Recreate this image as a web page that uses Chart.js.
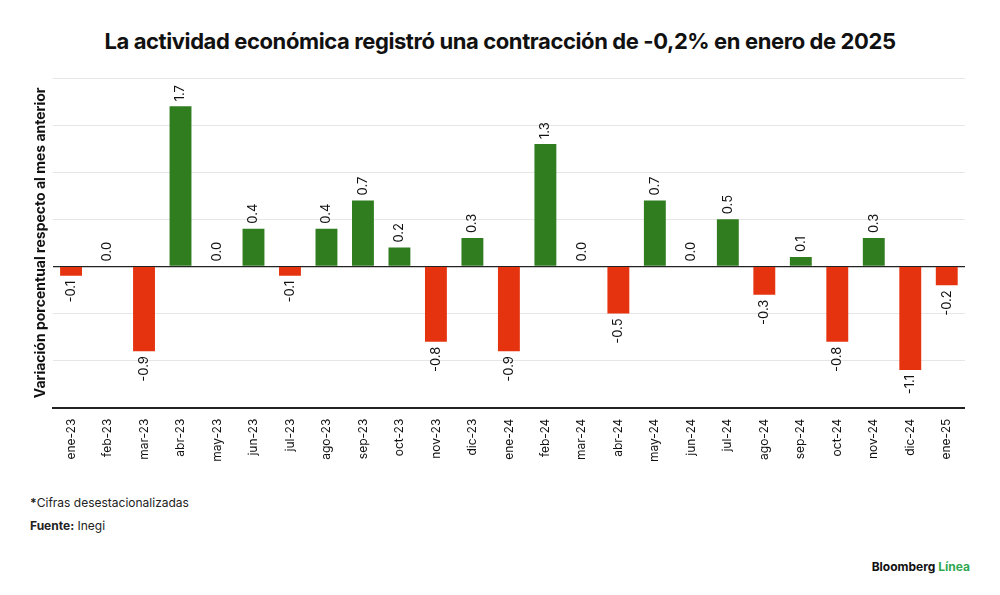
<!DOCTYPE html>
<html>
<head>
<meta charset="utf-8">
<script src="https://cdn.jsdelivr.net/npm/chart.js@4"></script>
<style>
  body { margin: 0; background: #fff; font-family: Inter, "Open Sans", sans-serif; }
  #wrap { position: relative; width: 1000px; height: 595px; }
  h1 { position: absolute; top: 28px; left: 0; width: 1000px; text-align: center; margin: 0;
       font-size: 22px; font-weight: 700; color: #111; letter-spacing: -0.4px; }
  #box { position: absolute; left: 28px; top: 78px; width: 937px; height: 387px; }
  .note { position: absolute; left: 30px; font-size: 12px; color: #222; }
  #logo { position: absolute; right: 30px; top: 559px; font-size: 12px; font-weight: 700; color: #111; }
  #logo span { color: #2fa84f; }
</style>
</head>
<body>
<div id="wrap">
  <h1>La actividad económica registró una contracción de -0,2% en enero de 2025</h1>
  <div id="box"><canvas id="c"></canvas></div>
  <div class="note" style="top:495px"><b>*</b>Cifras desestacionalizadas</div>
  <div class="note" style="top:518px"><b>Fuente:</b> Inegi</div>
  <div id="logo">Bloomberg <span>Línea</span></div>
</div>
<script>
// Datos
const months = ['ene-23','feb-23','mar-23','abr-23','may-23','jun-23','jul-23','ago-23','sep-23','oct-23','nov-23','dic-23',
  'ene-24','feb-24','mar-24','abr-24','may-24','jun-24','jul-24','ago-24','sep-24','oct-24','nov-24','dic-24','ene-25'];
const variation = [-0.1,0.0,-0.9,1.7,0.0,0.4,-0.1,0.4,0.7,0.2,-0.8,0.3,-0.9,1.3,0.0,-0.5,0.7,0.0,0.5,-0.3,0.1,-0.8,0.3,-1.1,-0.2];

const green = '#2f7d1f';
const red = '#e5330f';

// Etiquetas verticales sobre/bajo cada barra
const valueLabels = {
  id: 'valueLabels',
  afterDatasetsDraw(chart) {
    const ctx = chart.ctx;
    const meta = chart.getDatasetMeta(0);
    const zeroY = chart.scales.y.getPixelForValue(0);
    ctx.save();
    ctx.font = '13px Inter, sans-serif';
    ctx.fillStyle = '#111';
    ctx.textBaseline = 'middle';
    meta.data.forEach((bar, i) => {
      const v = variation[i];
      const txt = v.toFixed(1);
      ctx.save();
      if (v >= 0) {
        ctx.translate(bar.x, Math.min(bar.y, zeroY) - 5);
        ctx.rotate(-Math.PI / 2);
        ctx.textAlign = 'left';
      } else {
        ctx.translate(bar.x, bar.y + 5);
        ctx.rotate(-Math.PI / 2);
        ctx.textAlign = 'right';
      }
      ctx.fillText(txt, 0, 0);
      ctx.restore();
    });
    ctx.restore();
  }
};

new Chart(document.getElementById('c'), {
  type: 'bar',
  data: {
    labels: months,
    datasets: [{
      data: variation,
      backgroundColor: variation.map(v => v < 0 ? red : green),
      barPercentage: 0.6,
      categoryPercentage: 1.0
    }]
  },
  options: {
    responsive: true,
    maintainAspectRatio: false,
    animation: false,
    plugins: { legend: { display: false }, tooltip: { enabled: false } },
    scales: {
      x: {
        grid: { display: false },
        border: { color: '#222', width: 2 },
        ticks: { minRotation: 90, maxRotation: 90, color: '#111', font: { size: 12, family: 'Inter' } }
      },
      y: {
        min: -1.5, max: 2.0,
        title: { display: true, text: 'Variación porcentual respecto al mes anterior',
                 font: { size: 14, weight: 'bold', family: 'Inter' }, color: '#111' },
        ticks: { stepSize: 0.5, display: false },
        grid: { color: ctx => ctx.tick.value === 0 ? '#222' : '#e6e6e6', lineWidth: ctx => ctx.tick.value === 0 ? 1.2 : 1, drawTicks: false },
        border: { display: false }
      }
    }
  },
  plugins: [valueLabels]
});
</script>
</body>
</html>
